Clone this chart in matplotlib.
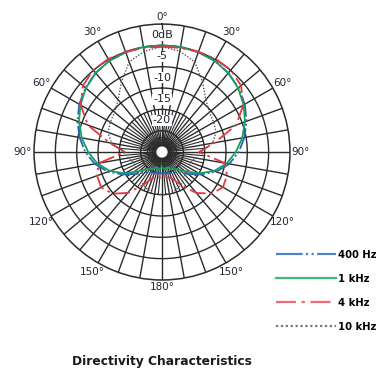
import numpy as np
import matplotlib
matplotlib.use("Agg")
import matplotlib.pyplot as plt
from matplotlib.lines import Line2D

# polar response, one side (0..180 deg), mirrored for the other side
angles = [0, 10, 20, 30, 40, 50, 60, 70, 80, 90, 100, 110, 120, 130, 140, 150, 160, 170, 180]
db_400 = [0, 0, -0.1, -0.3, -0.8, -1.6, -2.6, -3.9, -5.4, -7.0, -9.0, -11.5, -14.5, -17.0, -18.8, -19.5, -19.8, -20.0, -20.0]
db_1k = [0, 0, -0.1, -0.3, -0.8, -1.7, -2.9, -4.3, -5.9, -7.7, -9.6, -12.0, -15.0, -18.0, -19.8, -20.3, -21.2, -20.8, -21.5]
db_4k = [-0.3, -0.2, 0.0, 0.2, 0.1, -0.8, -3.0, -6.5, -12.5, -16.3, -10.0, -8.8, -8.5, -9.8, -12.5, -16.0, -18.5, -19.0, -19.0]
db_10k = [-0.3, -1.0, -2.5, -6.0, -9.0, -10.5, -11.0, -11.5, -13.0, -16.0, -17.0, -17.8, -18.0, -17.6, -17.0, -16.2, -15.5, -15.2, -15.0]

labels = ["400 Hz", "1 kHz", "4 kHz", "10 kHz"]
colors = ["#2c64b4", "#13a063", "#e6373f", "#555555"]
legend_colors = ["#4f83c6", "#3cba7c", "#f06a72", "#777777"]
styles = [(0, (12, 1.5, 1, 1.5, 1, 1.5)), "-", (0, (9, 2.5, 1.5, 2.5)), (0, (1, 1.2))]

ring_db = [-20, -15, -10, -5, 0]
ring_text = ["-20", "-15", "-10", "-5", "0dB"]
angle_marks = [0, 30, 60, 90, 120, 150, 180]

OFFSET = 25  # dB shift so that -25 dB sits at the centre


def mirror(deg, vals):
    deg = np.array(deg, dtype=float)
    vals = np.array(vals, dtype=float)
    full_deg = np.concatenate([deg, 360 - deg[::-1][1:]])
    full_val = np.concatenate([vals, vals[::-1][1:]])
    return np.radians(full_deg), full_val + OFFSET


fig = plt.figure(figsize=(3.79, 3.72), dpi=100)
ax = fig.add_axes([0.0897, 0.2473, 0.6755, 0.688], projection="polar")
ax.set_theta_zero_location("N")
ax.set_theta_direction(-1)
ax.set_ylim(0, 30)
ax.grid(False)
ax.set_xticks([])
ax.set_yticks([])
ax.spines["polar"].set_color("#2a2a2a")
ax.spines["polar"].set_linewidth(1.1)

gc = "#2a2a2a"
th = np.linspace(0, 2 * np.pi, 361)
for r in [5, 10, 15, 20, 25]:
    ax.plot(th, np.full_like(th, r), color=gc, lw=1.0, zorder=1)
for r in [1.4, 1.8, 2.2, 2.6, 3.0, 3.4]:
    ax.plot(th, np.full_like(th, r), color=gc, lw=0.6, zorder=1)
# spokes every 10 deg, extra ones in the inner area
for a in range(0, 360, 10):
    ax.plot([np.radians(a)] * 2, [0, 30], color=gc, lw=1.0, zorder=1)
for a in range(5, 360, 10):
    ax.plot([np.radians(a)] * 2, [0, 10], color=gc, lw=0.8, zorder=1)
ax.fill(th, np.full_like(th, 1.15), color="white", zorder=2)

for vals, c, ls, lab in zip([db_400, db_1k, db_4k, db_10k], colors, styles, labels):
    t, r = mirror(angles, vals)
    ax.plot(t, r, color=c, ls=ls, lw=1.3 if ls != styles[3] else 1.0, zorder=4, label=lab)

for d, s in zip(ring_db, ring_text):
    ax.text(0, d + OFFSET + 2.4, s, ha="center", va="center", fontsize=8, color="#222233",
            bbox=dict(boxstyle="square,pad=0.05", fc="white", ec="none"), zorder=5)

for a in angle_marks:
    rr = 31.6 if a in (0, 180) else 32.6
    for sgn in ([1] if a in (0, 180) else [1, -1]):
        ax.text(np.radians(sgn * a), rr, f"{a}\u00b0", ha="center", va="center",
                fontsize=7.5, color="#222233", clip_on=False)

handles = [Line2D([], [], color=c, ls=ls, lw=1.6) for c, ls in zip(legend_colors, styles)]
fig.legend(handles, labels, loc="upper left", bbox_to_anchor=(0.717, 0.34), frameon=False,
           handlelength=6.0, handletextpad=0.25, labelspacing=1.4, borderaxespad=0,
           prop=dict(size=7.2, weight="bold"))

fig.text(0.19, 0.012, "Directivity Characteristics", fontsize=8.8, weight="bold",
         color="#1a1a1a", ha="left", va="bottom")

fig.savefig("out.png", dpi=100)
